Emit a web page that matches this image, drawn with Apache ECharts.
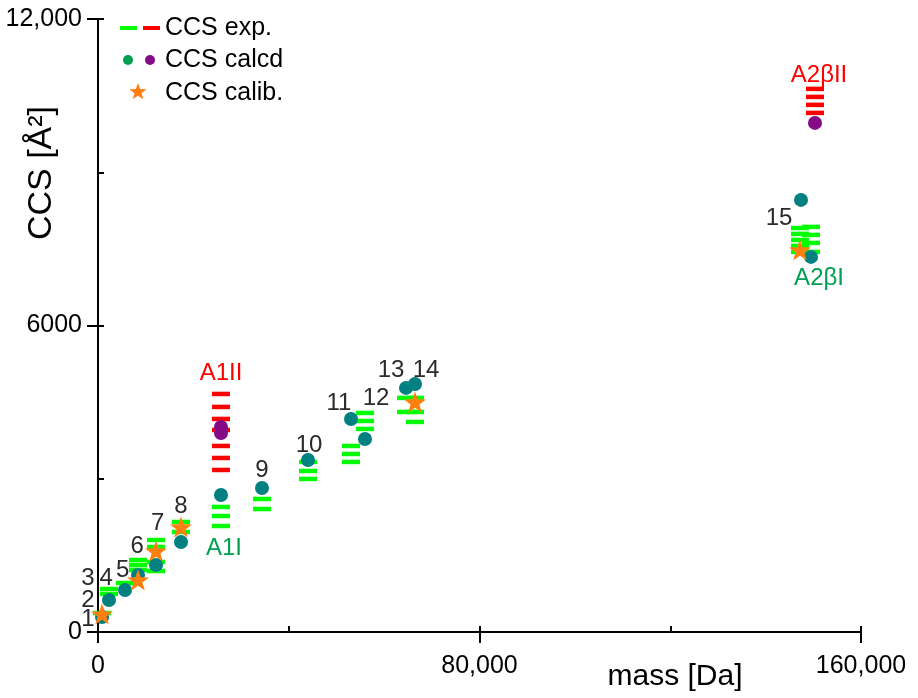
<!DOCTYPE html>
<html><head><meta charset="utf-8">
<script src="https://cdn.jsdelivr.net/npm/echarts@6/dist/echarts.min.js"></script>
<style>html,body{margin:0;padding:0;background:#fff}#c{width:918px;height:698px}</style>
</head><body><div id="c"></div>
<script>
// ---- axis ticks ----
const massTicks = [0, 80000, 160000];
const massTickLabels = ['0', '80,000', '160,000'];
const ccsTicks = [0, 6000, 12000];
const ccsTickLabels = ['0', '6000', '12,000'];

// ---- data: [mass (Da), CCS (Å²)] ----
// experimental CCS (green dashes)
const expCCS = [
  [840, 372],
  [2307, 842], [2307, 744],
  [5662, 959],
  [8388, 1410], [8388, 1312], [8388, 1214],
  [12163, 1801], [12163, 1664], [12163, 1371], [12163, 1194],
  [17405, 2154], [17405, 1958],
  [25793, 2448], [25793, 2271], [25793, 2075],
  [34391, 2604], [34391, 2408],
  [44037, 3329], [44037, 3152], [44037, 2996],
  [53054, 3642], [53054, 3485], [53054, 3329],
  [55990, 4288], [55990, 4131], [55990, 3975],
  [64588, 4582], [64588, 4308],
  [66475, 4582], [66475, 4308], [66475, 4112],
  [147209, 7908], [147209, 7793], [147209, 7675], [147209, 7558], [147209, 7441],
  [149516, 7930], [149516, 7773], [149516, 7617], [149516, 7441]
];
// experimental CCS, II forms (red dashes)
const expCCSII = [
  [25793, 4660], [25793, 4406], [25793, 4171], [25793, 3955],
  [25793, 3642], [25793, 3407], [25793, 3172],
  [150355, 10632], [150355, 10475], [150355, 10319], [150355, 10162]
];
// calculated CCS (teal circles)
const calcCCS = [
  [840, 294], [2307, 627], [5662, 822], [8388, 1116], [12163, 1312],
  [17405, 1762], [25793, 2682], [34391, 2820], [44037, 3368],
  [53054, 4171], [55990, 3779], [64588, 4778], [66475, 4856],
  [147419, 8459], [149516, 7343]
];
// calculated CCS, II forms (purple circles)
const calcCCSII = [
  [25793, 4014], [25793, 3896], [150355, 9966]
];
// calibrant CCS (orange stars)
const calibCCS = [
  [840, 352], [8388, 1018], [12163, 1586], [17405, 2056],
  [66475, 4503], [147209, 7480]
];
// annotations: [text, mass, CCS]
const numberLabels = [
  ['1', -2100, 255], ['2', -2100, 627], ['3', -2100, 1040], ['4', 1700, 1040],
  ['5', 5200, 1214], ['6', 8200, 1680], ['7', 12500, 2130], ['8', 17400, 2450],
  ['9', 34390, 3172], ['10', 44250, 3661], ['11', 50540, 4484], ['12', 58300, 4582],
  ['13', 61440, 5130], ['14', 68780, 5130], ['15', 142800, 8106]
];
const redLabels = [['A1II', 25800, 5071], ['A2\u03B2II', 151200, 10906]];
const greenLabels = [['A1I', 26420, 1645], ['A2\u03B2I', 151200, 6931]];

// ---- styling ----
const FONT = "'Liberation Sans', Arial, sans-serif";
const C_GREEN_DASH = '#00ff00';
const C_RED = '#ff0000';
const C_TEAL = '#008080';
const C_PURPLE = '#850a85';
const C_ORANGE = '#ff8010';
const C_DKGREEN = '#00a050';
const STAR = 'path://M50 0 L61.76 33.82 L97.55 34.55 L69.02 56.18 L79.39 90.45 L50 70 L20.61 90.45 L30.98 56.18 L2.45 34.55 L38.24 33.82 Z';

function starPoints(cx, cy, R, r) {
  const pts = [];
  for (let i = 0; i < 10; i++) {
    const a = (-90 + i * 36) * Math.PI / 180;
    const rad = i % 2 === 0 ? R : r;
    pts.push([cx + rad * Math.cos(a), cy + rad * Math.sin(a)]);
  }
  return pts;
}

function lab(arr, color) {
  return {
    type: 'scatter', xAxisIndex: 0, yAxisIndex: 0, symbol: 'circle', symbolSize: 2, clip: false, z: 10,
    silent: true,
    itemStyle: { color: 'rgba(0,0,0,0)', opacity: 0 },
    label: { show: true, position: 'inside', formatter: p => p.name, color: color,
      fontFamily: FONT, fontSize: 24, opacity: 1 },
    emphasis: { disabled: true },
    data: arr.map(d => ({ name: d[0], value: [d[1], d[2]] }))
  };
}

const chart = echarts.init(document.getElementById('c'), null, { renderer: 'canvas' });
chart.setOption({
  backgroundColor: '#fff',
  animation: false,
  grid: { left: 98, right: 57, top: 19, bottom: 66, containLabel: false },
  xAxis: [{
    type: 'value', min: 0, max: 160000, interval: 80000,
    axisLine: { show: true, onZero: false, lineStyle: { color: '#000', width: 2 } },
    axisTick: { show: true, inside: false, length: 11, lineStyle: { color: '#000', width: 2 } },
    splitLine: { show: false },
    axisLabel: { margin: 22, color: '#000', fontFamily: FONT, fontSize: 25,
      formatter: v => { const i = massTicks.indexOf(v); return i >= 0 ? massTickLabels[i] : ''; } }
  }, {
    type: 'value', min: 0, max: 160000, interval: 40000, position: 'bottom',
    axisLine: { show: false }, splitLine: { show: false }, axisLabel: { show: false },
    axisTick: { show: true, inside: true, length: 6, lineStyle: { color: '#000', width: 2 } }
  }],
  yAxis: [{
    type: 'value', min: 0, max: 12000, interval: 6000,
    axisLine: { show: true, onZero: false, lineStyle: { color: '#000', width: 2 } },
    axisTick: { show: true, inside: false, length: 11, lineStyle: { color: '#000', width: 2 } },
    splitLine: { show: false },
    axisLabel: { margin: 16, color: '#000', fontFamily: FONT, fontSize: 25,
      formatter: v => { const i = ccsTicks.indexOf(v); return i >= 0 ? ccsTickLabels[i] : ''; } }
  }, {
    type: 'value', min: 0, max: 12000, interval: 3000, position: 'left',
    axisLine: { show: false }, splitLine: { show: false }, axisLabel: { show: false },
    axisTick: { show: true, inside: true, length: 6, lineStyle: { color: '#000', width: 2 } }
  }],
  series: [
    { type: 'scatter', xAxisIndex: 0, yAxisIndex: 0, symbol: 'rect', symbolSize: [18, 4.5], z: 2,
      itemStyle: { color: C_GREEN_DASH, opacity: 1 }, data: expCCS },
    { type: 'scatter', xAxisIndex: 0, yAxisIndex: 0, symbol: 'rect', symbolSize: [18, 4.5], z: 2,
      itemStyle: { color: C_RED, opacity: 1 }, data: expCCSII },
    { type: 'scatter', xAxisIndex: 0, yAxisIndex: 0, symbol: 'circle', symbolSize: 14, z: 3,
      itemStyle: { color: C_TEAL, opacity: 1 }, data: calcCCS },
    { type: 'scatter', xAxisIndex: 0, yAxisIndex: 0, symbol: 'circle', symbolSize: 14, z: 3,
      itemStyle: { color: C_PURPLE, opacity: 1 }, data: calcCCSII },
    { type: 'scatter', xAxisIndex: 0, yAxisIndex: 0, symbol: STAR, symbolKeepAspect: true, symbolSize: 22, z: 4,
      itemStyle: { color: C_ORANGE, opacity: 1 }, data: calibCCS },
    lab(numberLabels, '#2a2a2a'),
    lab(redLabels, C_RED),
    lab(greenLabels, C_DKGREEN)
  ],
  graphic: [
    { type: 'text', x: 42, y: 173, rotation: Math.PI / 2, silent: true,
      style: { text: 'CCS [\u00C5\u00B2]', fill: '#000', font: '34px ' + FONT, align: 'center', verticalAlign: 'middle' } },
    { type: 'text', x: 675, y: 677, silent: true,
      style: { text: 'mass [Da]', fill: '#000', font: '30px ' + FONT, align: 'center', verticalAlign: 'middle' } },
    { type: 'rect', shape: { x: 120, y: 26, width: 17, height: 4 }, style: { fill: C_GREEN_DASH }, silent: true },
    { type: 'rect', shape: { x: 143, y: 26, width: 17, height: 4 }, style: { fill: C_RED }, silent: true },
    { type: 'text', x: 165, y: 28, silent: true, style: { text: 'CCS exp.', fill: '#000', font: '25px ' + FONT, verticalAlign: 'middle' } },
    { type: 'circle', shape: { cx: 128, cy: 60, r: 5 }, style: { fill: C_DKGREEN }, silent: true },
    { type: 'circle', shape: { cx: 150, cy: 60, r: 5 }, style: { fill: C_PURPLE }, silent: true },
    { type: 'text', x: 165, y: 60, silent: true, style: { text: 'CCS calcd', fill: '#000', font: '25px ' + FONT, verticalAlign: 'middle' } },
    { type: 'polygon', shape: { points: starPoints(138, 92, 9, 3.7) }, style: { fill: C_ORANGE }, silent: true },
    { type: 'text', x: 165, y: 93, silent: true, style: { text: 'CCS calib.', fill: '#000', font: '25px ' + FONT, verticalAlign: 'middle' } }
  ]
});
</script></body></html>
